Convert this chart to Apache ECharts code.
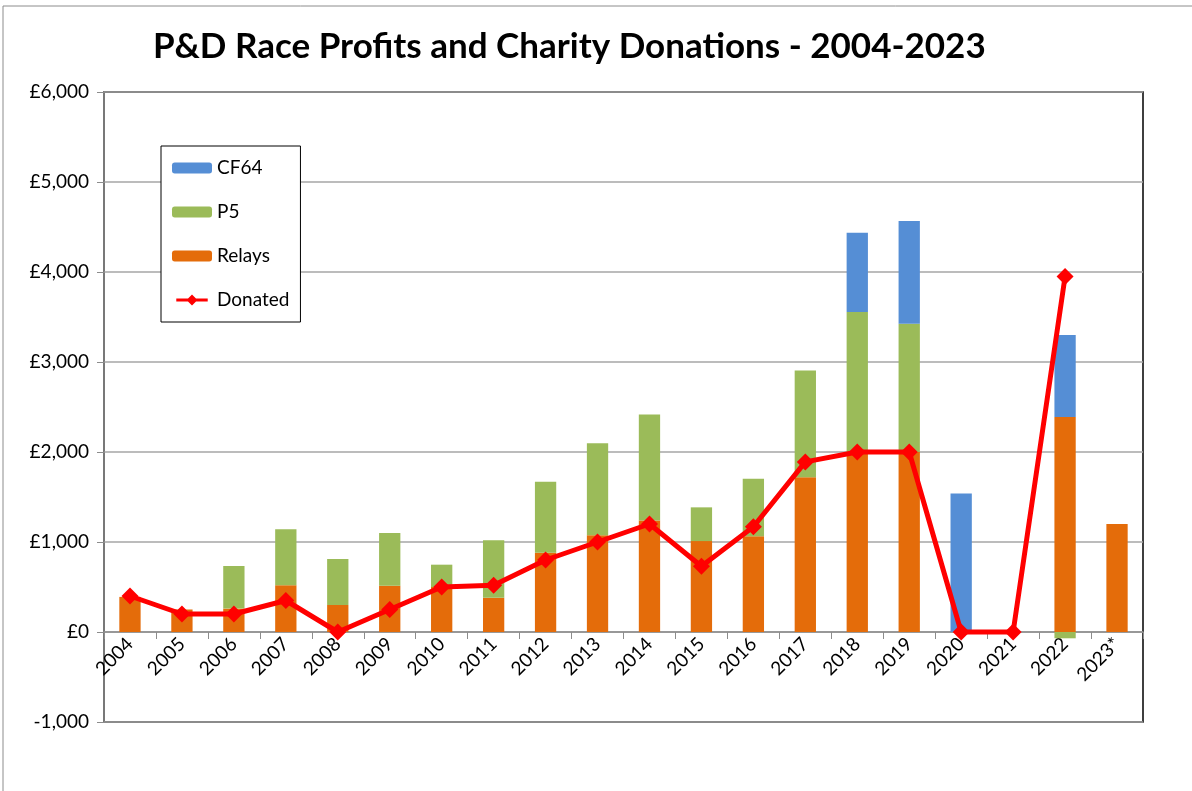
<!DOCTYPE html>
<html>
<head>
<meta charset="utf-8">
<script src="https://cdn.jsdelivr.net/npm/echarts@6/dist/echarts.min.js"></script>
<style>html,body{margin:0;padding:0;background:#fff;}#c{width:1192px;height:791px;}</style>
</head>
<body>
<div id="c"></div>
<script>
var years = ['2004','2005','2006','2007','2008','2009','2010','2011','2012','2013','2014','2015','2016','2017','2018','2019','2020','2021','2022','2023*'];
var relays = [390,250,260,520,300,515,500,380,880,1075,1240,1010,1065,1720,2000,2000,0,0,2390,1200];
var p5 = [0,0,473,622,510,585,248,640,790,1022,1177,375,637,1185,1555,1426,0,0,-70,0];
var cf64 = [0,0,0,0,0,0,0,0,0,0,0,0,0,0,880,1140,1540,0,910,0];
var donated = [400,200,200,350,0,250,500,520,800,1000,1200,730,1170,1890,2000,2000,0,0,3950,null];
var yTicks = {min:-1000, max:6000, interval:1000};

var FONT = 'Lato, "Open Sans", sans-serif';
var chart = echarts.init(document.getElementById('c'), null, {renderer:'canvas'});
function fmt(v){
  var a = Math.abs(v).toLocaleString('en-GB');
  return v < 0 ? '-' + a : '\u00a3' + a;
}
var lineIcon = 'path://M0,5 L40,5 L40,9 L0,9 Z M20,0 L27,7 L20,14 L13,7 Z';
chart.setOption({
  animation:false,
  backgroundColor:'#fff',
  textStyle:{fontFamily:FONT},
  graphic:[{type:'rect', shape:{x:3,y:6,width:1400,height:1000}, style:{fill:'none', stroke:'#8c8c8c', lineWidth:1}, silent:true, z:-10}],
  title:{text:'P&D Race Profits and Charity Donations - 2004-2023', left:148, top:24,
    textStyle:{fontFamily:FONT, fontWeight:'bold', fontSize:35, color:'#000'}},
  legend:{orient:'vertical', left:161, top:146,
    data:['CF64','P5','Relays',{name:'Donated', icon:lineIcon, itemStyle:{color:'#FF0000'}}],
    backgroundColor:'#fff', borderColor:'#000', borderWidth:1, padding:[12,11,12,11],
    itemWidth:40, itemHeight:11, itemGap:24,
    textStyle:{fontFamily:FONT, fontSize:19, color:'#000', lineHeight:20}},
  grid:{left:104, right:49, top:92, bottom:69, show:true, borderColor:'#000', borderWidth:1.5, backgroundColor:'transparent'},
  xAxis:{type:'category', data:years, boundaryGap:true, offset:-90,
    axisLine:{onZero:false, lineStyle:{color:'#8c8c8c', width:1.5}},
    axisTick:{show:true, length:7, lineStyle:{color:'#8c8c8c'}},
    axisLabel:{rotate:45, fontSize:19, color:'#000', margin:9, interval:0, fontFamily:FONT}},
  yAxis:{type:'value', min:yTicks.min, max:yTicks.max, interval:yTicks.interval,
    axisLine:{show:true, lineStyle:{color:'#8c8c8c', width:1.5}},
    axisTick:{show:true, length:7, lineStyle:{color:'#8c8c8c'}},
    splitLine:{lineStyle:{color:'#a6a6a6', width:1.5}},
    axisLabel:{formatter:fmt, fontSize:19, color:'#000', margin:15, fontFamily:FONT}},
  series:[
    {name:'Relays', type:'bar', stack:'t', data:relays, barWidth:'41%', itemStyle:{color:'#E46C0A'}},
    {name:'P5', type:'bar', stack:'t', data:p5, itemStyle:{color:'#9BBB59'}},
    {name:'CF64', type:'bar', stack:'t', data:cf64, itemStyle:{color:'#558ED5'}},
    {name:'Donated', type:'line', data:donated, symbol:'diamond', symbolSize:17, z:5,
      lineStyle:{color:'#FF0000', width:5}, itemStyle:{color:'#FF0000'}, connectNulls:false}
  ]
});
</script>
</body>
</html>
